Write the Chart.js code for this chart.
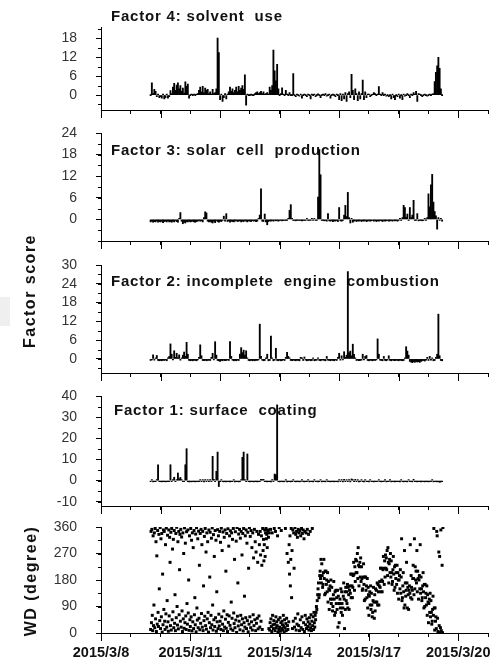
<!DOCTYPE html>
<html><head><meta charset="utf-8">
<script src="https://cdn.jsdelivr.net/npm/chart.js@4.4.0/dist/chart.umd.min.js"></script>
<style>
html,body{margin:0;padding:0;background:#fff;}
#wrap{position:relative;width:503px;height:664px;overflow:hidden;background:#fff;}
canvas{position:absolute;left:0;top:0;}
.yl{position:absolute;font:bold 16px "Liberation Sans",Arial,sans-serif;letter-spacing:1.5px;color:#111;white-space:nowrap;transform:translate(-50%,-50%) rotate(-90deg);}
</style></head>
<body>
<div id="wrap">
<div style="position:absolute;left:0;top:297px;width:10px;height:29px;background:#efefef"></div>
<canvas id="c1" width="503" height="664"></canvas>
<canvas id="c2" width="503" height="664"></canvas>
<canvas id="c3" width="503" height="664"></canvas>
<canvas id="c4" width="503" height="664"></canvas>
<canvas id="c5" width="503" height="664"></canvas>
<div class="yl" style="left:30px;top:291px">Factor score</div>
<div class="yl" style="left:31px;top:581px">WD (degree)</div>
</div>
<script>
// ---- data: hourly factor scores from 2015/3/9 16:00 (hour 40 after 2015/3/8 00:00) ----
const startHour = 40;
const xTickLabels = ['2015/3/8','2015/3/11','2015/3/14','2015/3/17','2015/3/20'];
const xTickHours = [0,72,144,216,288];
const dayTicks = [0,24,48,72,96,120,144,168,192,216,240,264,288,312];

const factor4 = [
0,3.9,0.5,1.8,1.2,-0.5,0.2,-0.8,
-0.5,-1,0.2,-1.2,-0.8,0.3,-1,-0.5,
1.4,0.5,2.5,3.7,1.5,3.2,3.9,2.0,
3.0,1.2,2.2,0.6,4.2,2.8,3.5,-1.0,
0,0.2,0,0.1,0,0.3,0.5,1.5,
2.5,1.0,2.8,0.8,2.2,1.5,1.8,0.5,
1.0,0.3,1.8,0.5,0.8,2.0,18.1,13.5,
-1.5,0.2,-2,-0.8,0.5,-1.2,0.3,1.0,
2.5,1.2,2.0,0.8,1.5,2.5,1.0,2.8,
1.5,2.2,3.0,1.8,6.4,-3.2,0.3,0,
0,0.2,0,0,0.5,0.8,1.0,0.5,
0.8,1.2,0.5,1.0,0.3,0.5,0.8,0.2,
2.5,1.5,3.0,14.3,7.7,4.5,9.75,2.0,
0,0.5,2.3,0.2,0,1.5,0.3,0,
0.8,0,0,6.8,0,-0.5,0.2,0,
-0.3,0.2,-1.0,0,0.3,0,-0.5,0.2,
0,-1.2,0.3,0,0.2,-0.5,0,0.4,
0,-0.8,0,0.2,0,0.5,-0.3,0,
0.2,-1.0,0,0.3,0,-0.5,0.2,0,
-1.5,0.5,-1.8,0.3,-1.2,0.8,-2.0,0.5,
1.0,-0.8,6.6,1.5,-1.5,2.0,0.5,-1.8,
1.0,-1.2,0.5,4.75,-1.5,1.0,-0.8,0.3,
0.2,-0.5,0,0.3,0.8,0.5,0,0.2,
2.7,0.3,0,0.8,0,0.2,-0.3,0,
-0.5,0,-1.2,0.2,-0.8,-1.5,0,-0.5,
0.3,-1.0,0,-1.5,0.2,-0.3,0,0.5,
0,-0.8,0.3,0,0.8,0.2,1.2,-2.0,
0.5,0.2,0,-0.5,0,0.2,0,-0.3,
0,0.2,0,0.3,0.5,4.3,7.25,9.3,
12.0,8.5,2.0,0];

const factor3 = [
-0.7,-0.5,-0.8,-0.6,-0.7,-0.4,-0.8,-0.6,
-0.7,-0.5,-0.9,-0.6,-0.5,-0.7,-0.4,-0.7,
-0.6,-0.8,-0.5,-0.7,-0.3,-0.6,-0.8,0.2,
1.9,-0.5,-1.2,-0.8,-1.0,-0.6,-0.7,-0.5,
-0.7,-0.6,-0.5,-0.7,-0.8,-0.6,-0.5,-0.3,
-0.5,-0.4,-0.7,0.5,2.1,1.8,-0.5,-0.7,
-0.6,-0.8,-1.0,-0.5,-0.9,-0.3,-0.6,-0.8,
-0.5,-0.6,-0.3,0.9,-0.5,1.6,-0.6,-0.4,
-0.8,-0.5,-0.6,-0.7,-0.5,-0.3,-0.6,-0.5,
-0.4,-0.7,-0.5,-0.6,-0.3,-0.5,-0.7,-0.4,
-0.5,-0.6,-0.3,-0.5,-0.4,-0.6,-0.5,0.2,
1.2,8.5,-0.5,-0.6,1.5,-0.7,-1.5,-0.6,
-0.4,-0.5,-0.3,-0.5,-0.2,-0.4,-0.3,-0.5,
-0.3,-0.2,-0.4,-0.3,-0.1,-0.3,-0.2,0.3,
2.5,4.1,0.2,-0.3,-0.2,-0.4,-0.3,-0.2,
-0.3,-0.2,-0.4,-0.1,-0.3,-0.2,0.1,-0.3,
-0.2,-0.1,0.3,-0.2,0.2,-0.3,-0.2,6.2,
19.4,12.4,-0.3,-0.2,-0.4,-0.3,-0.5,1.6,
-0.4,-0.5,-0.3,-0.6,-0.4,-0.5,-0.3,-0.6,
3.3,-0.4,-0.5,-0.3,1.2,3.9,0.8,7.5,
0.5,-1.0,0.3,-0.8,-0.5,-0.3,-0.6,-0.4,
-0.5,-0.3,-0.6,-0.4,-0.5,-0.3,-0.6,-0.5,
-0.3,-0.5,-0.4,-0.2,-0.5,-0.3,-0.6,-0.4,
-0.5,-0.3,-0.4,-0.6,-0.3,-0.5,-0.4,-0.2,
-0.5,-0.4,-0.3,-0.5,-0.2,-0.4,-0.3,-0.5,
-0.2,0.2,-0.3,0.5,3.9,3.3,0.6,1.5,
-0.3,3.3,0.5,1.2,5.3,-0.3,-0.2,1.6,
-0.4,-0.3,-0.2,-0.4,-0.3,0.3,-0.2,0.5,
7.1,3.5,9.6,12.5,4.8,2.2,1.0,-2.7,
0.5,-0.2,0.3,-0.5];

const factor2 = [
-0.5,-0.3,1.3,-0.4,0.2,1.1,-0.5,-0.6,
-0.5,-0.6,-0.4,-0.5,-0.3,-0.6,0.3,0.8,
4.8,1.5,-0.3,2.6,0.5,1.8,0.3,1.3,
-0.4,0.3,1.2,2.2,0.8,5.3,1.5,-0.5,
-0.6,-0.5,-0.6,-0.4,-0.5,-0.6,-0.3,0.5,
4.5,1.0,-0.5,-0.6,-0.4,-0.6,-0.5,-0.4,
-0.5,0.5,1.8,-0.3,5.5,1.2,-0.5,-0.6,
-0.8,-0.5,-0.6,-0.4,-0.6,-0.5,-0.3,-0.5,
5.5,0.8,-0.4,-0.6,-0.5,-0.6,-0.4,-0.5,
1.5,3.6,2.0,2.8,1.2,2.6,0.3,-0.5,
-0.6,-0.4,-0.6,-0.5,-0.6,-0.4,-0.5,-0.3,
11.1,0.8,-0.4,-0.6,-0.5,0.2,1.5,-0.6,
-0.5,7.3,0.3,-0.6,-0.4,3.4,-0.5,-0.6,
-0.4,-0.6,-0.5,-0.3,-0.5,0.5,2.1,0.8,
0.3,-0.5,-0.6,-0.4,-0.5,-0.6,-0.4,-0.5,
-0.6,0.5,0.3,-0.5,0.6,-0.4,-0.6,-0.5,
-0.4,-0.6,-0.5,0.2,-0.6,-0.5,-0.4,0.3,
-0.5,-0.6,-0.4,-0.3,-0.5,-0.6,0.8,-0.4,
-0.5,-0.6,-0.4,-0.5,-0.6,-0.3,-0.5,0.5,
1.8,-0.4,1.0,-0.3,2.3,0.5,1.2,27.9,
2.0,2.5,1.0,4.7,1.5,0.3,-0.5,-0.4,
-0.6,-0.5,-0.4,1.5,-0.3,0.8,1.1,-0.5,
-0.6,-0.4,-0.5,-0.6,-0.4,-0.5,-0.3,6.4,
1.5,-0.4,-0.5,-0.6,0.8,-0.5,-0.6,-0.4,
1.0,-0.5,-0.6,-0.4,-0.5,-0.6,-0.4,-0.5,
-0.6,-0.4,-0.5,-0.6,-0.5,0.2,3.9,2.5,
1.2,-0.8,-1.0,-1.2,-0.9,-1.1,-0.8,-1.0,
-0.9,-1.1,-0.8,-0.6,-0.5,-0.7,-0.4,0.5,
-0.5,0.8,-0.4,0.3,-0.6,-0.5,0.5,1.5,
14.3,1.0,-0.5,-0.6];

const factor1 = [
-0.5,0.3,-0.6,-0.4,-0.5,0.5,7.5,-0.3,
-0.5,-0.6,-0.4,-0.5,-0.6,-0.3,-0.5,-0.4,
7.5,-0.3,0.5,1.6,-0.2,0.3,3.6,0.8,
1.5,0.2,-0.3,-0.4,7.5,15.1,-0.5,-0.6,
-0.5,-0.6,-0.4,-0.5,-0.6,-0.4,-0.5,-0.3,
0.3,-0.5,0.4,-0.6,0.5,-0.4,0.3,-0.5,
0.5,-0.3,11.5,0.6,-0.4,4.4,13.5,-2.8,
-0.5,0.3,-0.4,-0.6,-0.5,-0.6,-0.4,-0.5,
-0.6,-0.3,-0.5,0.2,-0.6,-0.5,-0.4,-0.6,
-0.5,0.3,11.0,13.5,0.2,-0.4,12.6,-0.5,
-0.6,-0.4,-0.5,-0.6,-0.4,-0.5,-0.6,-0.4,
-0.5,0.6,0.5,0.6,-0.4,-0.5,-0.6,-0.4,
-0.5,-0.6,0.5,-0.4,3.1,2.8,35.8,-0.5,
-0.6,-0.4,-0.5,-0.6,-0.4,0.3,-0.6,-0.5,
-0.4,-0.6,-0.5,0.2,-0.4,-0.6,-0.5,-0.3,
-0.6,-0.4,0.2,-0.5,-0.6,-0.4,-0.5,0.3,
-0.6,-0.4,-0.5,-0.6,0.2,-0.5,-0.4,-0.6,
-0.5,0.3,-0.6,-0.4,-0.5,-0.6,0.2,-0.5,
-0.4,-0.6,-0.5,-0.3,-0.6,-0.4,-0.5,-0.6,
0.3,-0.4,0.5,-0.6,0.6,-0.5,0.4,-0.3,
0.5,-0.6,0.8,0.4,-0.5,0.6,-0.4,0.3,
-0.6,-0.4,0.2,-0.5,-0.6,0.3,-0.4,-0.5,
-0.6,0.2,-0.4,-0.5,-0.6,-0.3,-0.5,-0.4,
0.2,-0.5,-0.6,-0.4,-0.5,0.3,-0.6,-0.4,
-0.5,0.2,-0.6,-0.4,-0.5,-0.6,-0.3,-0.5,
-0.4,-0.6,0.4,-0.5,-0.6,-0.4,-0.5,-0.6,
0.3,-0.5,-0.4,-0.6,0.6,-0.5,-0.4,-0.6,
-0.5,-0.4,-0.6,-0.5,-0.3,-0.6,-0.4,-0.5,
-0.6,-0.4,-0.5,0.2,-0.6,-0.5,-0.4,-0.6,
-0.5,-0.8,-0.6,-0.5];

// wind direction, three readings per hour
const windDir = [
12,345,35,352,60,8,330,25,95,340,18,355,48,310,5,262,30,348,70,22,335,150,42,358,
15,320,55,338,3,200,28,350,80,345,40,12,300,65,356,20,110,332,38,6,350,58,325,240,
25,342,10,355,45,285,72,318,18,348,33,130,8,338,52,359,90,27,310,14,345,62,215,335,
40,352,20,326,75,5,340,48,270,16,357,35,305,58,12,344,100,30,350,68,180,9,330,45,
22,355,55,315,7,340,38,290,15,348,62,120,28,336,4,358,85,44,320,18,346,50,230,11,
338,33,352,66,300,20,345,8,160,42,328,57,355,25,275,13,340,48,310,70,3,350,35,190,
342,18,60,322,28,357,95,10,334,45,260,22,348,52,315,6,140,38,351,15,330,64,24,345,
40,308,12,356,55,280,30,343,8,75,325,20,350,47,210,16,338,62,5,354,36,295,58,330,
26,347,14,105,340,50,318,9,355,68,32,250,18,344,44,312,2,358,57,170,24,336,40,352,
11,322,60,345,28,265,48,338,7,355,35,125,20,330,52,350,15,305,42,342,4,220,30,358,
55,328,18,348,38,290,10,340,62,255,25,352,45,310,8,275,33,345,50,240,14,335,58,300,
20,345,265,40,330,230,12,355,280,318,245,300,350,260,340,355,320,335,290,350,345,325,15,340,
10,35,352,48,22,5,340,60,28,15,42,355,30,8,345,55,18,38,25,330,2,45,12,358,
20,52,6,35,348,15,40,28,10,60,22,3,45,18,355,32,8,50,270,25,12,240,38,300,
200,330,160,250,355,120,280,15,350,40,340,220,20,358,50,335,10,345,30,325,65,352,25,340,
8,348,45,330,18,355,55,338,12,350,35,320,5,345,60,28,340,15,48,352,22,38,335,10,
52,30,345,18,62,8,40,355,25,55,12,70,35,20,60,45,70,90,80,110,130,150,170,120,
130,195,210,185,250,170,235,195,155,165,205,250,185,130,210,135,210,165,180,140,205,105,175,150,
80,145,160,115,180,100,155,115,75,90,130,175,115,60,140,70,145,100,120,80,145,20,125,100,
35,100,115,85,150,70,140,100,60,85,125,170,115,15,140,80,155,110,140,100,165,85,155,130,
80,145,160,135,200,120,200,160,120,155,195,240,200,145,225,175,250,205,245,205,270,185,290,230,
160,225,240,190,255,175,225,185,145,150,190,235,165,110,190,115,190,145,160,120,185,85,155,130,
60,125,140,95,160,80,135,95,55,70,110,155,105,50,130,75,150,105,145,105,170,95,165,140,
95,160,175,155,220,140,220,180,140,175,215,260,220,165,245,190,265,220,255,215,280,195,290,240,
170,235,250,205,270,190,245,205,165,175,215,260,200,145,225,155,230,185,205,165,230,135,205,180,
115,180,195,150,215,135,190,320,110,120,160,205,140,85,280,95,170,125,145,240,170,85,155,130,
80,145,160,135,300,120,195,155,115,145,185,230,185,130,320,150,225,180,210,170,280,140,210,185,
115,180,195,150,300,135,190,150,110,120,160,205,140,85,165,90,165,120,135,95,160,60,130,105,
35,100,115,70,135,55,110,70,30,40,80,125,60,355,85,10,85,40,55,15,345,330,50,5,
2,275,25,260,0,18,350,8,2,230,1,358];

const f4Ticks = [0,6,12,18];
const f3Ticks = [0,6,12,18,24];
const f2Ticks = [0,6,12,18,24,30];
const f1Ticks = [-10,0,10,20,30,40];
const wdTicks = [0,90,180,270,360];

// ---- rendering ----
const FONT = '"Liberation Sans", Arial, sans-serif';
const hourly = arr => arr.map((v,i)=>({x:startHour+i, y:v}));
const thirds = arr => arr.map((v,i)=>({x:startHour+i/3, y:v}));

const decor = {
  id:'decor',
  beforeDatasetsDraw(chart, args, o){
    if(!o.title) return;
    const ctx = chart.ctx;
    ctx.save();
    ctx.font = 'bold 15px ' + FONT;
    try{ ctx.letterSpacing = '0.8px'; }catch(e){}
    ctx.fillStyle = '#111';
    ctx.textBaseline = 'alphabetic';
    ctx.fillText(o.title, o.tx, o.ty);
    ctx.restore();
  },
  afterDraw(chart, args, o){
    const ctx = chart.ctx, ys = chart.scales.y, xs = chart.scales.x;
    ctx.save();
    ctx.strokeStyle = '#000'; ctx.lineWidth = 1;
    const n0 = Math.ceil(ys.min/o.minor - 1e-9), n1 = Math.floor(ys.max/o.minor + 1e-9);
    for(let n=n0;n<=n1;n++){
      const p = Math.round(ys.getPixelForValue(n*o.minor)) + 0.5;
      ctx.beginPath(); ctx.moveTo(ys.right-3, p); ctx.lineTo(ys.right, p); ctx.stroke();
    }
    for(const h of o.longTicks){
      const p = Math.round(xs.getPixelForValue(h)) + 0.5;
      ctx.beginPath(); ctx.moveTo(p, xs.top); ctx.lineTo(p, xs.top+8); ctx.stroke();
    }
    ctx.restore();
  }
};

function panel(id, top, bottom, ymin, ymax, yTicks, minor, data, isScatter, title, tx, ty, showX, longTicks){
  const xh = showX ? 30 : 20;
  const ds = isScatter ?
    {type:'scatter', data, showLine:false, pointStyle:'rect', pointRadius:2.1, pointBorderWidth:0, backgroundColor:'#000', borderColor:'#000'} :
    {type:'bar', data, backgroundColor:'#000', borderWidth:0, barThickness:1.2, minBarLength:1};
  return new Chart(document.getElementById(id), {
    type: isScatter ? 'scatter' : 'bar',
    data:{datasets:[ds]},
    plugins:[decor],
    options:{
      responsive:false, animation:false, events:[],
      layout:{padding:{left:0,right:15,top:top,bottom:664-bottom-xh}},
      plugins:{legend:{display:false}, tooltip:{enabled:false},
        decor:{title, tx, ty, minor, longTicks}},
      scales:{
        x:{type:'linear', min:0, max:312, offset:false,
          afterFit(s){ s.height = xh; },
          afterBuildTicks(s){ s.ticks = dayTicks.map(v=>({value:v})); },
          grid:{drawOnChartArea:false, drawTicks:true, tickLength:4, color:'#000', offset:false},
          border:{display:true, color:'#000', width:1},
          ticks:{display:showX, autoSkip:false, maxRotation:0, padding:7, color:'#111',
            font:{family:FONT, size:14.5, weight:'bold'},
            callback(v){ const k = xTickHours.indexOf(v); return k>=0 ? xTickLabels[k] : ''; }}
        },
        y:{type:'linear', min:ymin, max:ymax,
          afterFit(s){ s.width = 101; },
          afterBuildTicks(s){ s.ticks = yTicks.map(v=>({value:v})); },
          grid:{drawOnChartArea:false, drawTicks:true, tickLength:5, color:'#000'},
          border:{display:true, color:'#000', width:1},
          ticks:{padding:19, color:'#333', font:{family:FONT, size:14}}
        }
      }
    }
  });
}

const evenDays = [0,48,96,144,192,240,288];
panel('c1', 5, 110, -4.75, 21.5, f4Ticks, 3, hourly(factor4), false, 'Factor 4: solvent  use', 111, 21, false, evenDays);
panel('c2', 133, 241, -6, 24, f3Ticks, 3, hourly(factor3), false, 'Factor 3: solar  cell  production', 111, 155, false, evenDays);
panel('c3', 265, 373, -4.5, 30, f2Ticks, 3, hourly(factor2), false, 'Factor 2: incomplete  engine  combustion', 111, 286, false, evenDays);
panel('c4', 396, 506, -12, 40, f1Ticks, 5, hourly(factor1), false, 'Factor 1: surface  coating', 114, 415, false, evenDays);
panel('c5', 527, 633, 0, 360, wdTicks, 45, thirds(windDir), true, '', 0, 0, true, xTickHours);
</script>
</body></html>
